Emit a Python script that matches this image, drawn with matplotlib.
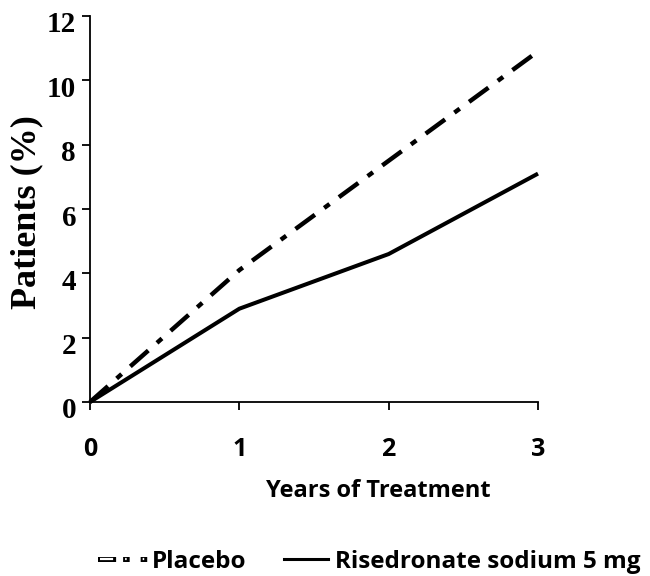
import matplotlib
matplotlib.use("Agg")
import matplotlib.pyplot as plt
from matplotlib.lines import Line2D
import matplotlib.patheffects as pe
import matplotlib.transforms as mtransforms

years = [0, 1, 2, 3]
placebo = [0, 4.1, 7.5, 10.9]
risedronate = [0, 2.9, 4.6, 7.1]
yticks = [0, 2, 4, 6, 8, 10, 12]
labels = ["Placebo", "Risedronate sodium 5 mg"]

fig = plt.figure(figsize=(6.5, 5.76), dpi=100)
ax = fig.add_axes([90/650, 1-402/576, 448/650, 386/576])

ax.plot(years, placebo, color="black", lw=3.2, linestyle=(0, (5.4, 2.6, 1.5, 2.6)),
        solid_capstyle="butt", dash_capstyle="butt", clip_on=False)
ax.plot(years, risedronate, color="black", lw=2.9, solid_capstyle="butt", clip_on=False)

ax.set_xlim(0, 3)
ax.set_ylim(0, 12)
ax.set_xticks(years)
ax.set_yticks(yticks)
for s in ["top", "right"]:
    ax.spines[s].set_visible(False)
for s in ["left", "bottom"]:
    ax.spines[s].set_linewidth(1.3)
ax.tick_params(axis="both", direction="out", length=6, width=1.3, color="black")
ax.tick_params(axis="x", pad=19)
ax.tick_params(axis="y", pad=4)

serif = {"family": "Liberation Serif", "weight": "bold", "size": 21}
sans = {"family": "Open Sans", "weight": "bold"}
ax.set_yticklabels([str(v) for v in yticks], fontdict=serif)
ax.set_xticklabels([str(v) for v in years], fontdict={**sans, "size": 18})
offset = mtransforms.ScaledTranslation(0, -9/100, fig.dpi_scale_trans)
for t in ax.get_yticklabels():
    t.set_verticalalignment("center")
    t.set_transform(t.get_transform() + offset)

ax.set_ylabel("Patients (%)", fontdict={**serif, "size": 26})
ax.yaxis.set_label_coords(-0.105, 0.492)
ax.set_xlabel("Years of Treatment", fontdict={**sans, "size": 17})
ax.xaxis.set_label_coords(0.643, -0.2)

legprop = {"family": "Open Sans", "weight": "bold", "size": 17.5}
h1 = Line2D([0], [0], color="white", lw=1.6, linestyle=(0, (5.9, 5.4, 0.7, 7.2, 0.7, 12)),
            path_effects=[pe.Stroke(linewidth=3.6, foreground="black", capstyle="projecting"),
                          pe.Normal()])
h2 = Line2D([0], [0], color="black", lw=2.2)
leg1 = fig.legend([h1], [labels[0]], loc="center left", bbox_to_anchor=(100/650, 1-562/576),
                  frameon=False, prop=legprop, handlelength=2.0, handletextpad=0.12,
                  borderpad=0, borderaxespad=0)
leg2 = fig.legend([h2], [labels[1]], loc="center left", bbox_to_anchor=(284/650, 1-562/576),
                  frameon=False, prop=legprop, handlelength=1.8, handletextpad=0.3,
                  borderpad=0, borderaxespad=0)

fig.savefig("out.png", dpi=100)
